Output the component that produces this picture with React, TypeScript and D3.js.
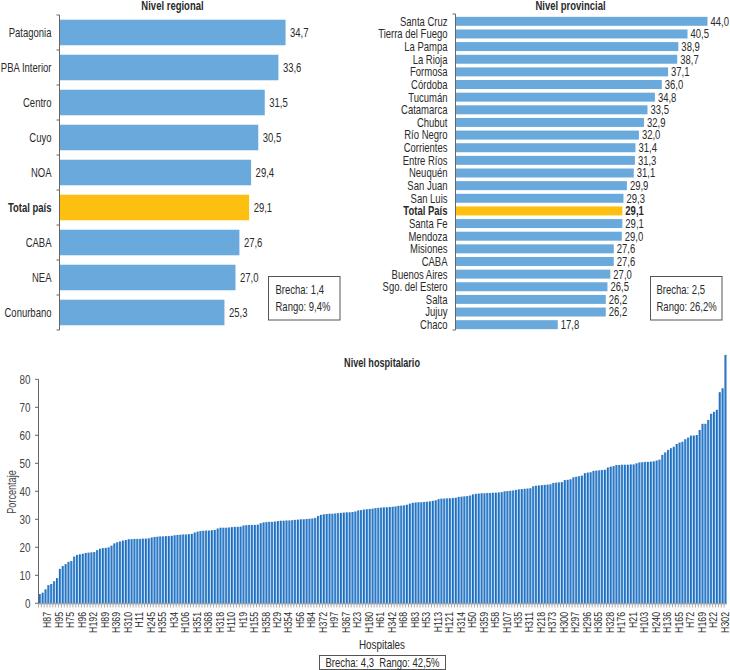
import React from 'react';
import * as d3 from 'd3';

const regionCategories = ['Patagonia', 'PBA Interior', 'Centro', 'Cuyo', 'NOA', 'Total país', 'CABA', 'NEA', 'Conurbano'];
const regionValues = [34.7, 33.6, 31.5, 30.5, 29.4, 29.1, 27.6, 27.0, 25.3];
const regionStats = ['Brecha: 1,4', 'Rango: 9,4%'];

const provinceCategories = [
  'Santa Cruz', 'Tierra del Fuego', 'La Pampa', 'La Rioja', 'Formosa', 'Córdoba', 'Tucumán', 'Catamarca',
  'Chubut', 'Río Negro', 'Corrientes', 'Entre Ríos', 'Neuquén', 'San Juan', 'San Luis', 'Total País',
  'Santa Fe', 'Mendoza', 'Misiones', 'CABA', 'Buenos Aires', 'Sgo. del Estero', 'Salta', 'Jujuy', 'Chaco',
];
const provinceValues = [
  44.0, 40.5, 38.9, 38.7, 37.1, 36.0, 34.8, 33.5, 32.9, 32.0, 31.4, 31.3, 31.1, 29.9, 29.3, 29.1,
  29.1, 29.0, 27.6, 27.6, 27.0, 26.5, 26.2, 26.2, 17.8,
];
const provinceStats = ['Brecha: 2,5', 'Rango: 26,2%'];

const hospitalValues = [
  3.3, 3.8, 5.0, 6.5, 6.9, 7.9, 9.0, 12.3, 13.3, 14.0,
  14.8, 15.1, 16.7, 17.3, 17.5, 17.7, 18.0, 18.1, 18.2, 18.3,
  19.0, 19.5, 19.7, 19.8, 20.0, 20.6, 21.4, 21.8, 22.1, 22.4,
  22.6, 22.9, 22.9, 23.0, 23.0, 23.0, 23.1, 23.1, 23.2, 23.5,
  23.7, 23.8, 23.9, 23.9, 24.0, 24.0, 24.1, 24.3, 24.4, 24.5,
  24.6, 24.6, 24.7, 24.8, 25.3, 25.6, 25.8, 25.9, 26.0, 26.0,
  26.1, 26.2, 26.7, 27.0, 27.0, 27.0, 27.1, 27.2, 27.3, 27.3,
  27.4, 27.8, 27.9, 28.0, 28.0, 28.0, 28.1, 28.6, 28.9, 29.0,
  29.1, 29.1, 29.2, 29.4, 29.5, 29.5, 29.6, 29.6, 29.7, 29.8,
  29.9, 30.0, 30.0, 30.1, 30.2, 30.3, 30.5, 31.2, 31.6, 31.8,
  31.9, 32.0, 32.0, 32.1, 32.2, 32.3, 32.4, 32.5, 32.5, 32.6,
  32.8, 33.2, 33.3, 33.5, 33.6, 33.7, 33.8, 34.0, 34.1, 34.2,
  34.3, 34.3, 34.4, 34.5, 34.6, 34.8, 34.9, 35.0, 35.2, 35.6,
  35.9, 36.0, 36.1, 36.1, 36.2, 36.3, 36.4, 36.6, 36.8, 37.2,
  37.4, 37.4, 37.5, 37.5, 37.6, 37.7, 38.0, 38.1, 38.2, 38.3,
  38.5, 38.9, 39.1, 39.2, 39.3, 39.3, 39.4, 39.4, 39.5, 39.5,
  39.6, 39.7, 40.0, 40.1, 40.2, 40.3, 40.5, 40.7, 40.8, 40.9,
  41.0, 41.1, 41.8, 42.0, 42.1, 42.2, 42.3, 42.4, 42.5, 43.0,
  43.1, 43.2, 43.3, 44.0, 44.1, 44.3, 45.0, 45.2, 45.4, 45.6,
  46.5, 46.7, 46.8, 47.3, 47.4, 47.5, 47.6, 47.7, 48.5, 48.8,
  49.0, 49.4, 49.4, 49.5, 49.5, 49.5, 49.6, 49.6, 50.0, 50.3,
  50.4, 50.5, 50.5, 50.6, 50.7, 51.0, 51.3, 53.0, 53.9, 54.8,
  55.4, 55.9, 56.9, 57.4, 57.7, 58.6, 59.2, 59.9, 59.9, 60.1,
  61.9, 64.1, 64.1, 65.5, 67.7, 68.4, 69.1, 75.4, 76.8, 88.7,
];
// One visible label every 4 bars (bars 3, 7, 11, ...)
const hospitalLabels = [
  'H87', 'H95', 'H75', 'H96', 'H192', 'H89', 'H369', 'H310', 'H11', 'H245',
  'H355', 'H34', 'H106', 'H351', 'H368', 'H318', 'H110', 'H19', 'H155', 'H358',
  'H29', 'H354', 'H56', 'H84', 'H372', 'H97', 'H367', 'H23', 'H180', 'H61',
  'H342', 'H68', 'H83', 'H53', 'H113', 'H121', 'H314', 'H50', 'H359', 'H58',
  'H107', 'H35', 'H311', 'H218', 'H373', 'H300', 'H297', 'H296', 'H365', 'H328',
  'H176', 'H21', 'H103', 'H240', 'H136', 'H165', 'H72', 'H169', 'H22', 'H302',
];
const hospitalTicks = [0, 10, 20, 30, 40, 50, 60, 70, 80];
const hospitalStats = 'Brecha: 4,3  Rango: 42,5%';

const FONT = '"Liberation Sans", Arial, Helvetica, sans-serif';
const BLUE = '#69a9db';
const GOLD = '#fdc010';
const TEXT = '#2a2a2a';
const AXIS = '#666';
const NARROW = 0.76;
const FS = 12.5;

const fmt = (v: number) => d3.format('.1f')(v).replace('.', ',');

type TProps = {
  x: number; y: number; anchor?: 'start' | 'middle' | 'end'; size?: number; weight?: string;
  fill?: string; rotate?: number; dy?: string; children: React.ReactNode;
};

// Condensed text: Liberation Sans squeezed horizontally, like a narrow grotesque
function T({ x, y, anchor = 'start', size = FS, weight = 'normal', fill = TEXT, rotate = 0, dy = '0.35em', children }: TProps) {
  const rot = rotate ? ` rotate(${rotate})` : '';
  return (
    <text transform={`translate(${x},${y})${rot} scale(${NARROW},1)`} textAnchor={anchor} dy={dy}
      fontSize={size} fontWeight={weight} fill={fill} xmlSpace="preserve">{children}</text>
  );
}

function RegionalPanel() {
  const x = d3.scaleLinear().domain([0, 40]).range([60, 320]);
  const y = d3.scaleBand<string>().domain(regionCategories).range([15, 330]).paddingInner(0.27).paddingOuter(0.135);
  const edges = d3.range(regionCategories.length + 1).map((i) => 15 + (i * (330 - 15)) / regionCategories.length);
  return (
    <g>
      <T x={172.5} y={5.5} anchor="middle" weight="bold">Nivel regional</T>
      {regionCategories.map((c, i) => {
        const total = c.startsWith('Total');
        const cy = (y(c) as number) + y.bandwidth() / 2;
        return (
          <g key={c}>
            <rect x={x(0)} y={y(c)} width={x(regionValues[i]) - x(0)} height={y.bandwidth()} fill={total ? GOLD : BLUE} />
            <T x={51.5} y={cy} anchor="end" weight={total ? 'bold' : 'normal'}>{c}</T>
            <T x={x(regionValues[i]) + 4.5} y={cy}>{fmt(regionValues[i])}</T>
          </g>
        );
      })}
      <line x1={59.5} x2={59.5} y1={15} y2={330} stroke={AXIS} strokeWidth={1} />
      {edges.map((e, i) => (
        <line key={i} x1={56.5} x2={59.5} y1={e} y2={e} stroke={AXIS} strokeWidth={1} />
      ))}
      <rect x={268.5} y={276.5} width={71.5} height={43.5} fill="white" stroke="#555" strokeWidth={1} />
      <T x={275.5} y={289.5}>{regionStats[0]}</T>
      <T x={275.5} y={307}>{regionStats[1]}</T>
    </g>
  );
}

function ProvincialPanel() {
  const x = d3.scaleLinear().domain([0, 44]).range([456, 707.5]);
  const y = d3.scaleBand<string>().domain(provinceCategories).range([15, 331]).paddingInner(0.29).paddingOuter(0.145);
  return (
    <g>
      <T x={570.5} y={5.5} anchor="middle" weight="bold">Nivel provincial</T>
      {provinceCategories.map((c, i) => {
        const total = c.startsWith('Total');
        const cy = (y(c) as number) + y.bandwidth() / 2;
        return (
          <g key={c}>
            <rect x={x(0)} y={y(c)} width={x(provinceValues[i]) - x(0)} height={y.bandwidth()} fill={total ? GOLD : BLUE} />
            <T x={447.5} y={cy} anchor="end" weight={total ? 'bold' : 'normal'}>{c}</T>
            <T x={x(provinceValues[i]) + 3} y={cy} weight={total ? 'bold' : 'normal'}>{fmt(provinceValues[i])}</T>
          </g>
        );
      })}
      <line x1={455.5} x2={455.5} y1={14} y2={330} stroke={AXIS} strokeWidth={1} />
      <line x1={452.5} x2={455.5} y1={14} y2={14} stroke={AXIS} strokeWidth={1} />
      <line x1={452.5} x2={455.5} y1={330} y2={330} stroke={AXIS} strokeWidth={1} />
      <rect x={650.5} y={276.5} width={71.5} height={43.5} fill="white" stroke="#555" strokeWidth={1} />
      <T x={656.5} y={289.5}>{provinceStats[0]}</T>
      <T x={656.5} y={307}>{provinceStats[1]}</T>
    </g>
  );
}

function HospitalPanel() {
  const idx = d3.range(hospitalValues.length);
  const x = d3.scaleBand<number>().domain(idx).range([38.5, 727]).paddingInner(0.22).paddingOuter(0.1);
  const y = d3.scaleLinear().domain([0, 80]).range([603.3, 379.3]);
  const step = x.step();
  return (
    <g>
      <defs>
        <linearGradient id="hbar" x1="0" x2="1" y1="0" y2="0">
          <stop offset="0" stopColor="#135aa8" />
          <stop offset="0.5" stopColor="#2c7dcc" />
          <stop offset="1" stopColor="#62a6e4" />
        </linearGradient>
      </defs>
      <T x={382} y={363} anchor="middle" weight="bold" size={12}>Nivel hospitalario</T>
      {idx.map((i) => (
        <rect key={i} x={x(i)} y={y(hospitalValues[i])} width={x.bandwidth()} height={y(0) - y(hospitalValues[i])} fill="url(#hbar)" />
      ))}
      <line x1={38.5} x2={38.5} y1={y(80)} y2={y(0)} stroke={AXIS} strokeWidth={1} />
      {hospitalTicks.map((t) => (
        <g key={t}>
          <line x1={35} x2={38.5} y1={y(t)} y2={y(t)} stroke={AXIS} strokeWidth={1} />
          <T x={30.5} y={y(t)} anchor="end" size={13} fill="#444">{t}</T>
        </g>
      ))}
      <line x1={38.5} x2={727} y1={603.8} y2={603.8} stroke="#888" strokeWidth={1} />
      {idx.map((i) => (
        <line key={i} x1={(x(i) as number) - (step - x.bandwidth()) / 2} x2={(x(i) as number) - (step - x.bandwidth()) / 2}
          y1={604} y2={607.5} stroke="#999" strokeWidth={0.8} />
      ))}
      {hospitalLabels.map((lab, k) => {
        const i = 3 + k * 4;
        const cx = (x(i) as number) + x.bandwidth() / 2;
        return (
          <T key={lab} x={cx - 0.5} y={612} rotate={-90} anchor="end" size={11.5} dy="0.3em">{lab}</T>
        );
      })}
      <T x={12} y={492} rotate={-90} anchor="middle" fill="#444" size={12}>Porcentaje</T>
      <T x={382} y={644} anchor="middle" size={13}>Hospitales</T>
      <rect x={319.5} y={655.5} width={126} height={14} fill="white" stroke="#555" strokeWidth={1} />
      <T x={382.5} y={662.5} anchor="middle">{hospitalStats}</T>
    </g>
  );
}

export default function App() {
  return (
    <svg width={730} height={670} viewBox="0 0 730 670"
      style={{ position: 'absolute', left: 0, top: 0, background: 'white', fontFamily: FONT }}>
      <rect x={0} y={0} width={730} height={670} fill="white" />
      <RegionalPanel />
      <ProvincialPanel />
      <HospitalPanel />
    </svg>
  );
}
